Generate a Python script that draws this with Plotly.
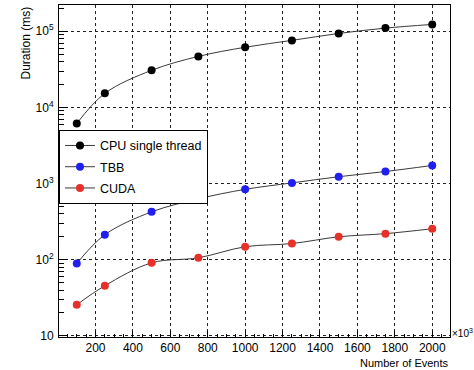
import plotly.graph_objects as go

events = [100, 250, 500, 750, 1000, 1250, 1500, 1750, 2000]
cpu = [6150, 15300, 30700, 46800, 61700, 75900, 93600, 110000, 123000]
tbb = [89, 213, 425, 630, 840, 1020, 1230, 1440, 1730]
cuda = [25.6, 45.5, 91, 106, 148, 163, 200, 220, 255]

series = [("CPU single thread", cpu, "black"), ("TBB", tbb, "#1f1ff0"), ("CUDA", cuda, "#e8302a")]
xticks = [200, 400, 600, 800, 1000, 1200, 1400, 1600, 1800, 2000]
yticks = [10, 100, 1000, 10000, 100000]
yticktext = ["10", "10<sup>2</sup>", "10<sup>3</sup>", "10<sup>4</sup>", "10<sup>5</sup>"]
yminor = [m * 10 ** e for e in range(0, 6) for m in range(2, 10)]

FONT = "Liberation Sans, Arial, sans-serif"

fig = go.Figure()
for name, vals, col in series:
    fig.add_trace(go.Scatter(
        x=events, y=vals, name=name, legendgroup=name, mode="lines+markers",
        line=dict(color="#3a3a3a", width=1, shape="spline", smoothing=1.0),
        marker=dict(color=col, size=8),
    ))

fig.update_layout(
    width=474, height=370,
    margin=dict(l=59, r=24, t=5, b=33),
    paper_bgcolor="white", plot_bgcolor="white",
    font=dict(family=FONT, size=12, color="black"),
    showlegend=True,
    legend=dict(x=0, y=0.624, xanchor="left", yanchor="top",
                bgcolor="white", bordercolor="black", borderwidth=1,
                font=dict(size=12.5), itemwidth=30, tracegroupgap=2,
                traceorder="grouped"),
    xaxis=dict(range=[5, 2095], tickvals=xticks, ticks="inside", ticklen=6,
               tickcolor="black",
               showline=True, linecolor="black", linewidth=1, mirror=True,
               showgrid=True, gridcolor="#222222", griddash="dot", gridwidth=1,
               zeroline=False, tickfont=dict(size=12),
               minor=dict(dtick=50, tick0=0, ticks="inside", ticklen=3,
                          tickcolor="black", showgrid=False)),
    yaxis=dict(type="log", range=[0.985, 5.345], tickvals=yticks, ticktext=yticktext,
               ticks="inside", ticklen=9, tickcolor="black", ticklabelstandoff=2,
               showline=True, linecolor="black", linewidth=1, mirror=True,
               showgrid=True, gridcolor="#222222", griddash="dot", gridwidth=1,
               zeroline=False, tickfont=dict(size=12),
               minor=dict(tickvals=yminor, ticks="inside", ticklen=5,
                          tickcolor="black", showgrid=False)),
)
fig.add_annotation(text="Number of Events", xref="paper", yref="paper", x=1, y=0,
                   xanchor="right", yanchor="top", yshift=-18, xshift=1,
                   showarrow=False, font=dict(size=11))
fig.add_annotation(text="×10<sup>3</sup>", xref="paper", yref="paper", x=1, y=0,
                   xanchor="left", yanchor="middle", xshift=0, yshift=4,
                   showarrow=False, font=dict(size=10))
fig.add_annotation(text="Duration (ms)", xref="paper", yref="paper", x=0, y=1,
                   xanchor="right", yanchor="top", xshift=-25, yshift=0,
                   showarrow=False, textangle=-90, font=dict(size=12))
fig.write_html("out.html", config={"displayModeBar": False},
               post_script="document.body.style.margin='0';")
